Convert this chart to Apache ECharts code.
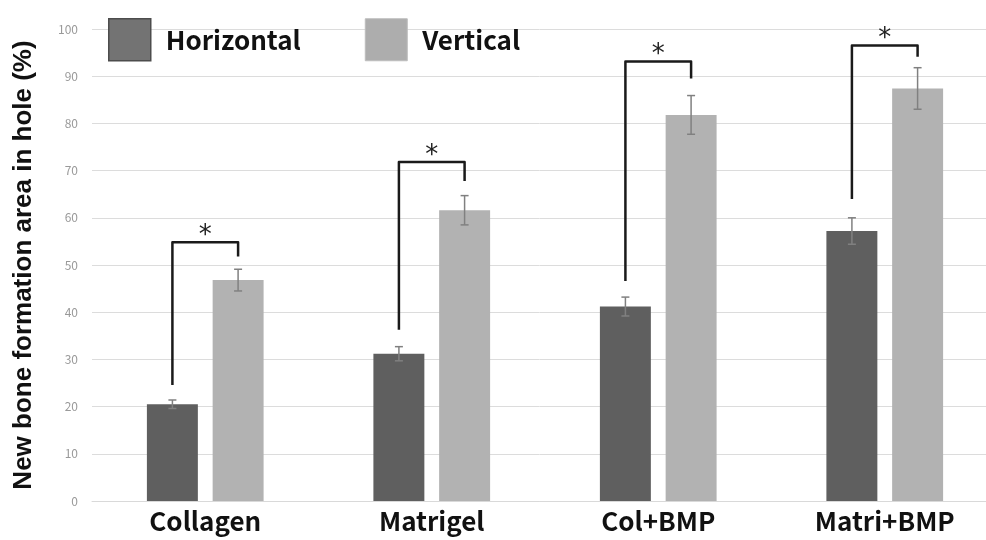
<!DOCTYPE html>
<html>
<head>
<meta charset="utf-8">
<script src="https://cdn.jsdelivr.net/npm/echarts@6/dist/echarts.min.js"></script>
<style>
  html, body { margin: 0; padding: 0; background: #fff; }
  #chart { width: 986px; height: 540px; }
</style>
</head>
<body>
<div id="chart"></div>
<script>
// 分类与数据
const categories = ['Collagen', 'Matrigel', 'Col+BMP', 'Matri+BMP']
const horizontalMean = [20.5, 31.2, 41.2, 57.2]
const horizontalErr = [0.9, 1.5, 2.0, 2.8]
const verticalMean = [46.8, 61.6, 81.8, 87.4]
const verticalErr = [2.3, 3.1, 4.1, 4.4]
// 显著性括号: 左端底部, 横线高度, 右端底部
const bracketLow = [24.6, 36.3, 46.6, 64.0]
const bracketTop = [54.8, 71.8, 93.1, 96.5]
const bracketRight = [51.8, 67.8, 89.5, 94.1]
const bracketMark = ['*', '*', '*', '*']

// 柱中心相对类目中心的偏移 (占类目宽度比例)
const OFF = 0.145

function errorRender(side) {
  return function (params, api) {
    const i = api.value(0)
    const m = api.value(1)
    const e = api.value(2)
    const band = api.size([1, 0])[0]
    const x = api.coord([i, m])[0] + side * OFF * band
    const yt = api.coord([i, m + e])[1]
    const yb = api.coord([i, m - e])[1]
    const style = { stroke: '#808080', lineWidth: 1.5 }
    return {
      type: 'group',
      children: [
        { type: 'line', shape: { x1: x, y1: yt, x2: x, y2: yb }, style: style },
        { type: 'line', shape: { x1: x - 4, y1: yt, x2: x + 4, y2: yt }, style: style },
        { type: 'line', shape: { x1: x - 4, y1: yb, x2: x + 4, y2: yb }, style: style }
      ]
    }
  }
}

function bracketRender(params, api) {
  const i = api.value(0)
  const band = api.size([1, 0])[0]
  const cx = api.coord([i, 0])[0]
  const xl = cx - OFF * band
  const xr = cx + OFF * band
  const yLow = api.coord([i, api.value(1)])[1]
  const yTop = api.coord([i, api.value(2)])[1]
  const yRight = api.coord([i, api.value(3)])[1]
  return {
    type: 'group',
    children: [
      {
        type: 'polyline',
        shape: { points: [[xl, yLow], [xl, yTop], [xr, yTop], [xr, yRight]] },
        style: { stroke: '#1a1a1a', lineWidth: 2.5, fill: null, lineJoin: 'round' }
      },
      {
        type: 'text',
        x: (xl + xr) / 2,
        y: yTop + 7,
        style: {
          text: bracketMark[params.dataIndex],
          fill: '#222',
          font: '26px "DejaVu Sans"',
          align: 'center',
          verticalAlign: 'bottom'
        }
      }
    ]
  }
}

const option = {
  animation: false,
  backgroundColor: '#fff',
  grid: {
    left: 92,
    top: 29,
    right: -12,
    height: 472,
    outerBoundsMode: 'none'
  },
  legend: {
    left: 103,
    top: 13,
    icon: 'rect',
    itemWidth: 42,
    itemHeight: 42,
    itemGap: 64,
    selectedMode: false,
    data: [
      { name: 'Horizontal', itemStyle: { color: '#737373', borderColor: '#4d4d4d', borderWidth: 1.5 } },
      { name: 'Vertical', itemStyle: { color: '#adadad', borderColor: '#bdbdbd', borderWidth: 1 } }
    ],
    textStyle: {
      color: '#111',
      fontFamily: 'Noto Sans CJK JP',
      fontWeight: 'bold',
      fontSize: 26,
      padding: [0, 0, 0, 10]
    }
  },
  xAxis: {
    type: 'category',
    data: categories,
    axisLine: { show: true, lineStyle: { color: '#d9d9d9' } },
    axisTick: { show: false },
    axisLabel: {
      color: '#111',
      fontFamily: 'Noto Sans CJK JP',
      fontWeight: 'bold',
      fontSize: 26,
      margin: 7
    }
  },
  yAxis: {
    type: 'value',
    min: 0,
    max: 100,
    interval: 10,
    name: 'New bone formation area in hole (%)',
    nameLocation: 'middle',
    nameRotate: 90,
    nameGap: 55,
    nameTextStyle: {
      color: '#111',
      fontFamily: 'Liberation Sans',
      fontWeight: 'bold',
      fontSize: 26
    },
    axisLine: { show: false },
    axisTick: { show: false },
    axisLabel: {
      color: '#999',
      fontFamily: 'Noto Sans CJK JP',
      fontSize: 12,
      margin: 14
    },
    splitLine: { lineStyle: { color: '#dcdcdc', width: 1 } }
  },
  series: [
    {
      name: 'Horizontal',
      type: 'bar',
      barWidth: '22.5%',
      barGap: '29%',
      itemStyle: { color: '#5f5f5f' },
      data: horizontalMean
    },
    {
      name: 'Vertical',
      type: 'bar',
      barWidth: '22.5%',
      itemStyle: { color: '#b2b2b2' },
      data: verticalMean
    },
    {
      type: 'custom',
      renderItem: errorRender(-1),
      z: 5,
      data: categories.map((c, i) => [i, horizontalMean[i], horizontalErr[i]])
    },
    {
      type: 'custom',
      renderItem: errorRender(1),
      z: 5,
      data: categories.map((c, i) => [i, verticalMean[i], verticalErr[i]])
    },
    {
      type: 'custom',
      renderItem: bracketRender,
      z: 6,
      data: categories.map((c, i) => [i, bracketLow[i], bracketTop[i], bracketRight[i]])
    }
  ]
}

const myChart = echarts.init(document.getElementById('chart'))
myChart.setOption(option)
</script>
</body>
</html>
